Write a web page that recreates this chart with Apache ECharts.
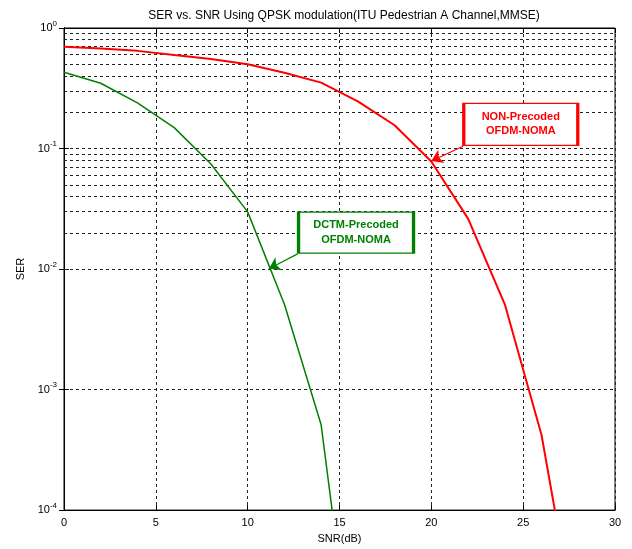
<!DOCTYPE html>
<html>
<head>
<meta charset="utf-8">
<script src="https://cdn.jsdelivr.net/npm/echarts@6/dist/echarts.min.js"></script>
<style>html,body{margin:0;padding:0;background:#fff;}#c{width:632px;height:549px;}</style>
</head>
<body>
<div id="c"></div>
<script>
// SNR values (dB)
const snrRed = [0, 2, 4, 6, 8, 10, 12, 14, 16, 18, 20, 22, 24, 26, 28];
const serNonPrecoded = [0.70, 0.675, 0.646, 0.596, 0.552, 0.50, 0.425, 0.352, 0.246, 0.156, 0.078, 0.0262, 0.0051, 0.00042, 0.000008];
const snrGreen = [0, 2, 4, 6, 8, 10, 12, 14, 16];
const serDctm = [0.43, 0.348, 0.239, 0.149, 0.0743, 0.0298, 0.0051, 0.00051, 0.0000022];
const xTicks = [0, 5, 10, 15, 20, 25, 30];
const minorGrid = [];
[1e-4, 1e-3, 1e-2, 1e-1].forEach(function (d) { for (let k = 2; k <= 9; k++) minorGrid.push(+(d * k).toPrecision(3)); });
const seriesNames = ['NON-Precoded\nOFDM-NOMA', 'DCTM-Precoded\nOFDM-NOMA'];

const FONT = 'Liberation Sans, Arial, sans-serif';
const gridDash = { color: '#222', width: 1, type: [3, 3] };

const chart = echarts.init(document.getElementById('c'), null, { renderer: 'canvas' });
chart.setOption({
  animation: false,
  backgroundColor: '#fff',
  title: {
    text: 'SER vs. SNR Using QPSK modulation(ITU Pedestrian A Channel,MMSE)',
    left: 339, top: 5, textAlign: 'center',
    textStyle: { fontFamily: FONT, fontSize: 12, fontWeight: 'normal', color: '#000' }
  },
  grid: { left: 64, right: 17, top: 28, bottom: 35, show: true, borderColor: '#000', borderWidth: 1, backgroundColor: '#fff' },
  xAxis: [{
    type: 'value', min: 0, max: 30, interval: 5,
    name: 'SNR(dB)', nameLocation: 'middle', nameGap: 21,
    nameTextStyle: { fontFamily: FONT, fontSize: 11, color: '#000' },
    axisLine: { lineStyle: { color: '#000' } },
    axisTick: { inside: true, length: 5, lineStyle: { color: '#000' } },
    axisLabel: { fontFamily: FONT, fontSize: 11, color: '#000', margin: 7 },
    splitLine: { show: true, lineStyle: gridDash }
  }, {
    type: 'value', min: 0, max: 30, interval: 5, position: 'top',
    axisLine: { lineStyle: { color: '#000' } },
    axisTick: { inside: true, length: 5, lineStyle: { color: '#000' } },
    axisLabel: { show: false }, splitLine: { show: false }
  }],
  yAxis: [{
    type: 'log', logBase: 10, min: 1e-4, max: 1,
    name: 'SER', nameLocation: 'middle', nameGap: 37,
    nameTextStyle: { fontFamily: FONT, fontSize: 11, color: '#000' },
    axisLine: { lineStyle: { color: '#000' } },
    axisTick: { inside: true, length: 5, lineStyle: { color: '#000' } },
    axisLabel: {
      fontFamily: FONT, fontSize: 11, color: '#000', margin: 7,
      formatter: function (v) { return '10{sup|' + Math.round(Math.log10(v)) + '}'; },
      rich: { sup: { fontFamily: FONT, fontSize: 8, color: '#000', verticalAlign: 'top', padding: [0, 0, 9, 0] } }
    },
    splitLine: { show: true, lineStyle: gridDash },
    minorTick: { show: false }
  }, {
    type: 'log', logBase: 10, min: 1e-4, max: 1, position: 'right',
    axisLine: { lineStyle: { color: '#000' } },
    axisTick: { inside: true, length: 5, lineStyle: { color: '#000' } },
    axisLabel: { show: false }, splitLine: { show: false }
  }],
  series: [
    {
      name: 'minor-grid', type: 'line', data: [], silent: true,
      markLine: {
        silent: true, symbol: ['none', 'none'], animation: false,
        label: { show: false },
        lineStyle: gridDash,
        data: minorGrid.map(function (v) { return { yAxis: v }; })
      }
    },
    {
      name: 'NON-Precoded', type: 'line', showSymbol: false, clip: true,
      data: snrRed.map(function (x, i) { return [x, serNonPrecoded[i]]; }),
      lineStyle: { color: '#ff0000', width: 2 }, itemStyle: { color: '#ff0000' },
      z: 5,
      markLine: {
        silent: true, animation: false, symbol: ['none', 'arrow'], symbolSize: 11,
        label: { show: false },
        itemStyle: { color: '#ff0000' },
        lineStyle: { color: '#ff0000', width: 1.2, type: 'solid' },
        emphasis: { disabled: true },
        data: [[{ coord: [21.73, 0.1044] }, { coord: [20.0, 0.0787] }]]
      },
      markPoint: {
        silent: true, animation: false,
        symbol: 'rect', symbolSize: [114, 42],
        itemStyle: { color: '#fff', borderColor: '#ff0000', borderWidth: 2 },
        label: { show: true, position: 'inside', formatter: seriesNames[0], fontFamily: FONT, fontSize: 11, fontWeight: 'bold', color: '#ff0000', lineHeight: 14 },
        data: [{ coord: [24.87, 0.1585] }]
      }
    },
    {
      name: 'DCTM-Precoded', type: 'line', showSymbol: false, clip: true,
      data: snrGreen.map(function (x, i) { return [x, serDctm[i]]; }),
      lineStyle: { color: '#008000', width: 1.5 }, itemStyle: { color: '#008000' },
      z: 5,
      markLine: {
        silent: true, animation: false, symbol: ['none', 'arrow'], symbolSize: 11,
        label: { show: false },
        itemStyle: { color: '#008000' },
        lineStyle: { color: '#008000', width: 1.2, type: 'solid' },
        emphasis: { disabled: true },
        data: [[{ coord: [12.72, 0.01336] }, { coord: [11.16, 0.01005] }]]
      },
      markPoint: {
        silent: true, animation: false,
        symbol: 'rect', symbolSize: [115, 41],
        itemStyle: { color: '#fff', borderColor: '#008000', borderWidth: 2 },
        label: { show: true, position: 'inside', formatter: seriesNames[1], fontFamily: FONT, fontSize: 11, fontWeight: 'bold', color: '#008000', lineHeight: 15 },
        data: [{ coord: [15.9, 0.02005] }]
      }
    }
  ]
});
</script>
</body>
</html>
